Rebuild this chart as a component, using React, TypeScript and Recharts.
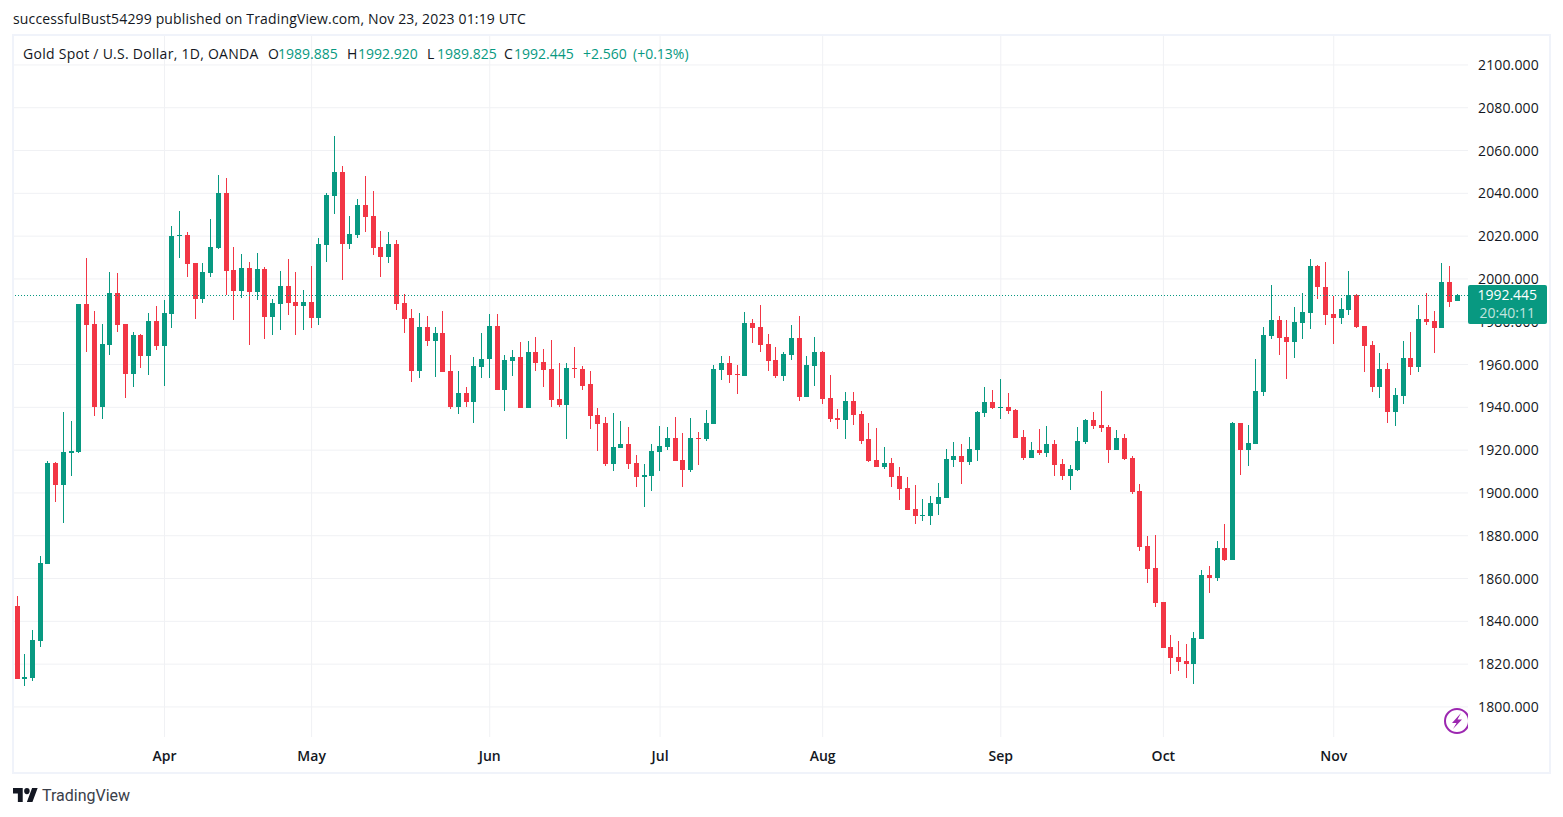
import { Bar, CartesianGrid, ComposedChart, ReferenceLine, XAxis, YAxis } from "recharts"

const UP = "#089981"
const DOWN = "#F23645"
const FONT = "'Open Sans', sans-serif"

const opens = [
  1847.1, 1813, 1813.4, 1830.7, 1866.7, 1913.9, 1903.6, 1918.5, 1919, 1988.5, 1979.1, 1940, 1969.3, 1993.6, 1979.1, 1955.8, 1974, 1964.2, 1980.5, 1968.8,
  1983.8, 2020.2, 2020.7, 2007.6, 1990.8, 2003, 2014.6, 2040.3, 2004.4, 1994.5, 2005.3, 1994.1, 2004.8, 1982.4, 1988.5, 1996.9, 1989.4, 1987.5, 1989.4, 1981.9,
  2016, 2038.9, 2050.2, 2016.5, 2020.7, 2034.7, 2029.6, 2015.1, 2010.4, 2016.5, 1988.9, 1981.9, 1957.2, 1977.7, 1971.2, 1974.9, 1957.2, 1940.3, 1946.9, 1942.7,
  1959, 1962.4, 1977.8, 1947.9, 1961.5, 1963.3, 1939.5, 1965.7, 1961, 1957.7, 1943.7, 1940.9, 1958.2, 1957.7, 1950.7, 1936.2, 1932.5, 1913.3, 1920.8, 1923.1,
  1913.8, 1907.3, 1907.7, 1918.9, 1921.3, 1925.9, 1915.2, 1910.5, 1925.5, 1925, 1932, 1957.3, 1960.5, 1955.4, 1954.5, 1979.2, 1977.4, 1969.4, 1961.9, 1954.5,
  1964.3, 1972.2, 1944.6, 1959.1, 1965.7, 1944.2, 1934.8, 1933.9, 1942.8, 1936.7, 1925, 1915.2, 1911.9, 1913.8, 1907.7, 1902.1, 1892.3, 1889, 1889, 1894.6,
  1897.4, 1915.4, 1917.3, 1914.5, 1920, 1937.4, 1942.5, 1939.7, 1940.2, 1938.8, 1926.1, 1916.3, 1920, 1918.7, 1922.9, 1913.5, 1907.9, 1910.7, 1923.8, 1934.1,
  1931.7, 1930.8, 1920, 1925.7, 1916.3, 1900.9, 1875.3, 1865, 1849.1, 1828.1, 1823.4, 1821.6, 1820.2, 1831.8, 1861.7, 1860.3, 1874.4, 1868.8, 1932.8, 1920.2,
  1923, 1947.3, 1973.5, 1981, 1973, 1970.7, 1979.6, 1984.3, 2006.2, 1996.4, 1983.8, 1981.9, 1985.7, 1992.7, 1978.2, 1969.3, 1949.7, 1958.1, 1938, 1945.5,
  1963.2, 1959, 1981.5, 1980.5, 1977.3, 1998.8, 1989.885,
]

const highs = [
  1851.7, 1824.6, 1835.9, 1870.4, 1914.8, 1914.4, 1937.7, 1933.5, 1988.5, 2010, 1985.2, 1979.1, 2003.4, 2003, 1979.1, 1975.4, 1974.5, 1984.3, 1987.5, 1990.3,
  2024.9, 2031.9, 2021.7, 2007.6, 2007.6, 2028.2, 2048.8, 2047.4, 2015.1, 2011.8, 2008.1, 2012.3, 2005.8, 1990.8, 2003.9, 2009.5, 2003.4, 1995, 2006.2, 2019.3,
  2040.3, 2067, 2053, 2029.6, 2037.5, 2048.3, 2041.3, 2022.6, 2022.1, 2018.4, 1993.1, 1986.1, 1984.3, 1982.9, 1977.7, 1985.2, 1964.6, 1957.2, 1949.7, 1963.7,
  1974.9, 1983.4, 1983.4, 1964.3, 1966.6, 1970.3, 1970.8, 1973.1, 1967.1, 1971.3, 1960.5, 1960.5, 1968, 1959.1, 1956.8, 1939.5, 1935.3, 1937.2, 1933.4, 1930.6,
  1917.5, 1913.3, 1922.7, 1931.1, 1930.6, 1935.3, 1927.8, 1934.8, 1928.3, 1938.6, 1960, 1963.8, 1963.8, 1960, 1984.4, 1981.1, 1987.6, 1974.1, 1968, 1965.7,
  1978.3, 1982.5, 1963.8, 1972.7, 1966.1, 1955.1, 1939, 1947, 1947, 1938.1, 1932.5, 1930.2, 1921.3, 1916.1, 1911.9, 1907.3, 1903.5, 1897, 1898.8, 1904.5,
  1920.3, 1923.8, 1922.9, 1926.1, 1938.3, 1949.5, 1948.1, 1953.2, 1946.7, 1939.2, 1929.4, 1923.8, 1929.9, 1931.3, 1924.7, 1915.9, 1913, 1930.8, 1934.5, 1937.8,
  1947.6, 1931.7, 1929.4, 1927.5, 1917.3, 1904.3, 1880, 1880.4, 1849.1, 1833.7, 1830.9, 1829.5, 1835.1, 1864.1, 1865.9, 1877.6, 1885.6, 1933.2, 1932.8, 1931.8,
  1962.8, 1977.7, 1997.4, 1982.9, 1981, 1987.1, 1993.6, 2009.5, 2006.7, 2008.1, 1992.2, 1991.3, 2003.9, 1993.1, 1978.2, 1971.2, 1965.6, 1960.9, 1949.2, 1971.2,
  1975.4, 1988, 1993.6, 1985.2, 2007.6, 2006.2, 1992.92,
]

const lows = [
  1813, 1809.7, 1812, 1827.9, 1866.7, 1895.7, 1885.9, 1907.8, 1918.6, 1966, 1935.9, 1934.5, 1964.6, 1975.4, 1944.3, 1949.4, 1958.6, 1955.3, 1967, 1949.9,
  1977.3, 2010, 2001.1, 1981.5, 1988.9, 2001.1, 2014.2, 1992.7, 1981, 1991.3, 1969.3, 1990.3, 1971.7, 1974, 1976.3, 1983.3, 1974, 1976.3, 1977.3, 1978.7,
  2008.1, 2030.5, 1999.7, 2014.2, 2019.3, 2021.7, 2011.4, 2001.1, 2007.6, 1985.7, 1974.9, 1952, 1953.9, 1968.8, 1954.4, 1956.7, 1939, 1936.9, 1940.3, 1932.8,
  1953.9, 1953.5, 1947.9, 1938.1, 1954.5, 1939.5, 1939.5, 1956.8, 1949.3, 1940, 1940, 1925, 1953.5, 1947.9, 1929.7, 1919.4, 1912.4, 1910.1, 1920.8, 1911,
  1903, 1893.2, 1900.7, 1910.1, 1919.9, 1914.7, 1903, 1909.6, 1912.9, 1924.5, 1932, 1952.6, 1951.2, 1946, 1954.5, 1969.9, 1965.7, 1956.8, 1953.5, 1952.1,
  1961.9, 1942.8, 1944.6, 1950.2, 1941.4, 1933, 1929.7, 1925, 1931.6, 1922.7, 1914.3, 1911.9, 1911, 1902.6, 1896.5, 1891.8, 1885.3, 1886.7, 1885, 1889.5,
  1897.4, 1912.1, 1904.2, 1913, 1914.9, 1935.5, 1939.2, 1934.5, 1936.9, 1925.7, 1915.4, 1916.3, 1917.7, 1916.8, 1907.9, 1906, 1901.4, 1910.2, 1922.9, 1929.9,
  1928.5, 1914, 1920, 1915.4, 1899.5, 1873, 1858, 1846.8, 1827.6, 1815.5, 1816.9, 1813.6, 1810.8, 1831.8, 1853.3, 1858.9, 1868.3, 1868.8, 1908.5, 1912.7,
  1923, 1945.5, 1972.1, 1964.6, 1953.4, 1963.2, 1971.7, 1976.8, 1990.8, 1978.7, 1969.8, 1979.1, 1983.3, 1977.3, 1956.7, 1947.3, 1944.5, 1932.9, 1931.5, 1941.7,
  1955.3, 1956.7, 1978.7, 1965.6, 1977.3, 1987.1, 1989.825,
]

const closes = [
  1813, 1813.9, 1831.2, 1867.2, 1913.9, 1903.6, 1919, 1919.5, 1988.5, 1978.7, 1940, 1969.8, 1993.6, 1978.7, 1955.8, 1974, 1964.2, 1980.5, 1968.8, 1984.3,
  2020.2, 2020.7, 2007.2, 1990.8, 2003.4, 2015.1, 2040.3, 2003.9, 1994.5, 2005.3, 1994.1, 2004.8, 1982.4, 1988.9, 1996.9, 1988.9, 1987.5, 1989.4, 1981.9, 2016.5,
  2039.4, 2050.2, 2016.5, 2021.2, 2034.7, 2029.1, 2014.6, 2010.4, 2016.5, 1988.5, 1981.5, 1957.2, 1977.7, 1971.2, 1974.9, 1956.7, 1940.3, 1946.9, 1942.7, 1959.5,
  1962.8, 1977.8, 1947.9, 1961.9, 1963.3, 1939.5, 1965.7, 1960.5, 1957.3, 1943.2, 1940.9, 1958.2, 1957.7, 1950.2, 1935.8, 1932, 1913.3, 1921.3, 1923.1, 1913.3,
  1907.3, 1908.2, 1919.4, 1921.7, 1925.9, 1914.7, 1910.5, 1925.5, 1925, 1932.5, 1957.7, 1960.5, 1954.9, 1954.9, 1979.2, 1976.9, 1968.9, 1961.5, 1954.5, 1964.7,
  1972.2, 1944.6, 1959.6, 1965.7, 1943.7, 1934.4, 1933.9, 1942.8, 1936.2, 1924.5, 1914.7, 1911.9, 1913.8, 1907.3, 1901.7, 1891.8, 1889, 1889.5, 1895.1, 1897.9,
  1915.7, 1917.3, 1914.5, 1920.5, 1937.8, 1942.5, 1939.7, 1940.2, 1938.3, 1925.7, 1916.3, 1920, 1918.7, 1922.9, 1913, 1907.9, 1911.2, 1924.3, 1934.1, 1931.3,
  1930.3, 1920, 1925.7, 1915.9, 1900.4, 1874.7, 1864.5, 1848.7, 1827.6, 1823, 1821.1, 1820.2, 1832.3, 1861.7, 1860.3, 1874.4, 1868.8, 1932.8, 1920.2, 1923.4,
  1947.8, 1974, 1981, 1972.6, 1970.7, 1980.1, 1984.7, 2006.2, 1996, 1983.3, 1981.9, 1986.1, 1992.7, 1977.7, 1968.8, 1949.7, 1958.1, 1938, 1945.9, 1963.2,
  1959, 1981.5, 1980.1, 1977.3, 1998.8, 1989.4, 1992.445,
]

const priceTicks = [1800, 1820, 1840, 1860, 1880, 1900, 1920, 1940, 1960, 1980, 2000, 2020, 2040, 2060, 2080, 2100]
const monthIndexes = [19, 38, 61, 83, 104, 127, 148, 170]
const monthLabels = ["Apr", "May", "Jun", "Jul", "Aug", "Sep", "Oct", "Nov"]

const lastPrice = 1992.445
const countdown = "20:40:11"

const headline = "successfulBust54299 published on TradingView.com, Nov 23, 2023 01:19 UTC"
const symbolTitle = "Gold Spot / U.S. Dollar, 1D, OANDA"
// legend pieces, left edge + colour
const legendBits: [string, number, string][] = [
  ["O", 268, "#131722"],
  ["1989.885", 278, UP],
  ["H", 347, "#131722"],
  ["1992.920", 358, UP],
  ["L", 427, "#131722"],
  ["1989.825", 437, UP],
  ["C", 504, "#131722"],
  ["1992.445", 514, UP],
  ["+2.560", 583, UP],
  ["(+0.13%)", 633, UP],
]

const candles = opens.map((open, i) => ({
  idx: i,
  open,
  high: highs[i],
  low: lows[i],
  close: closes[i],
  range: [lows[i], highs[i]],
}))

function Candle(props: any) {
  const { x, y, width, height, payload } = props
  const top = Math.min(y, y + height)
  const span = Math.abs(height)
  const perUnit = span / Math.max(payload.high - payload.low, 0.001)
  const rising = payload.close >= payload.open
  const color = rising ? UP : DOWN
  const bodyTop = top + (payload.high - Math.max(payload.open, payload.close)) * perUnit
  const bodyH = Math.abs(payload.close - payload.open) * perUnit
  const cx = Math.round(x + width / 2 - 0.5)
  return (
    <g shapeRendering="crispEdges">
      <rect x={cx} y={top} width={1} height={Math.max(span, 1)} fill={color} />
      <rect x={cx - 2} y={bodyTop} width={5} height={Math.max(bodyH, 1)} fill={color} />
    </g>
  )
}

export default function App() {
  return (
    <div style={{ position: "fixed", left: 0, top: 0, width: 1563, height: 817, background: "#fff", overflow: "hidden", fontFamily: FONT, fontSize: 14, color: "#131722" }}>
      <ComposedChart
        width={1563}
        height={817}
        data={candles}
        margin={{ top: 35, right: 14, bottom: 45, left: 13 }}
        style={{ position: "absolute", left: 0, top: 0 }}
      >
        <CartesianGrid stroke="#f0f1f4" strokeWidth={1} syncWithTicks />
        <XAxis
          dataKey="idx"
          ticks={monthIndexes}
          interval={0}
          height={35}
          padding={{ left: 0.5, right: 6.5 }}
          tickFormatter={(v) => monthLabels[monthIndexes.indexOf(v)]}
          axisLine={false}
          tickLine={false}
          tickSize={0}
          tickMargin={14}
          tick={{ fill: "#131722", fontSize: 14, fontWeight: 600, fontFamily: FONT }}
        />
        <YAxis
          orientation="right"
          domain={[1785.95, 2113.99]}
          allowDataOverflow
          ticks={priceTicks}
          interval={0}
          width={81}
          tickFormatter={(v) => v.toFixed(3)}
          axisLine={false}
          tickLine={false}
          tickSize={0}
          tickMargin={10}
          tick={{ fill: "#131722", fontSize: 14, fontFamily: FONT, letterSpacing: 0.15 }}
        />
        <Bar dataKey="range" barSize={5} isAnimationActive={false} shape={(p: any) => <Candle {...p} />} />
        <ReferenceLine y={lastPrice} stroke={UP} strokeDasharray="1 2" shapeRendering="crispEdges" />
      </ComposedChart>

      {/* pane frame */}
      <div style={{ position: "absolute", left: 12, top: 34, width: 1539, height: 740, boxSizing: "border-box", border: "2px solid #f0f3fa", pointerEvents: "none" }} />

      <div style={{ position: "absolute", left: 13, top: 9, whiteSpace: "nowrap", letterSpacing: 0.15 }}>{headline}</div>
      <div style={{ position: "absolute", left: 23, top: 44, whiteSpace: "nowrap", letterSpacing: 0.27 }}>{symbolTitle}</div>
      {legendBits.map(([txt, left, color]) => (
        <div key={txt + left} style={{ position: "absolute", left, top: 44, color, whiteSpace: "nowrap" }}>
          {txt}
        </div>
      ))}

      {/* last price tag sits over the price scale */}
      <div style={{ position: "absolute", left: 1468, top: 285, width: 78.5, height: 39, background: UP, borderRadius: 2, color: "#fff", textAlign: "center", lineHeight: "18px", paddingTop: 1, boxSizing: "border-box" }}>
        <div>{lastPrice.toFixed(3)}</div>
        <div style={{ color: "rgba(255,255,255,0.75)" }}>{countdown}</div>
      </div>

      {/* bolt badge, cut off by the price scale */}
      <svg style={{ position: "absolute", left: 1440, top: 705 }} width={28} height={32} viewBox="0 0 28 32">
        <circle cx={17} cy={16} r={12} fill="#fff" stroke="#9C27B0" strokeWidth={2} />
        <path d="M21 8 L12 18 L16.5 18 L13 24 L22 14.5 L17.5 14.5 Z" fill="#9C27B0" />
      </svg>

      <svg style={{ position: "absolute", left: 13, top: 788 }} width={25} height={14} viewBox="0 4 36 18" preserveAspectRatio="none">
        <path d="M14 22H7V11H0V4h14v18zM28 22h-8l7.5-18h8L28 22z" fill="#131722" />
        <circle cx={20} cy={8} r={4} fill="#131722" />
      </svg>
      <div style={{ position: "absolute", left: 42, top: 786, fontFamily: "Roboto, sans-serif", fontSize: 16, color: "#3a3e49", whiteSpace: "nowrap" }}>TradingView</div>
    </div>
  )
}
